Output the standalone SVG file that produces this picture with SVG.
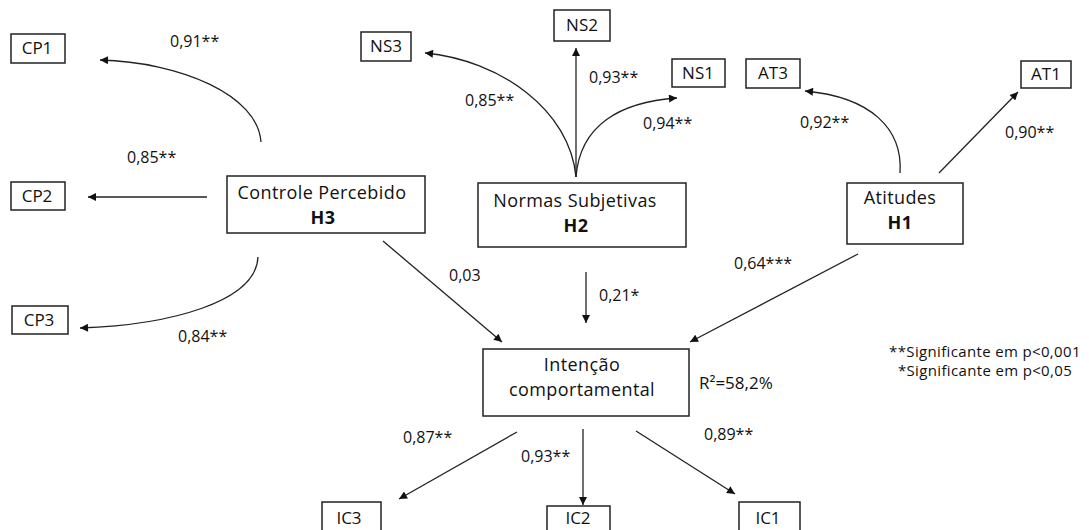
<svg xmlns="http://www.w3.org/2000/svg" width="1089" height="530" viewBox="0 0 1089 530">
<defs>
<marker id="arr" viewBox="0 0 10 10" refX="10" refY="5" markerWidth="9" markerHeight="8" markerUnits="userSpaceOnUse" orient="auto">
<path d="M0,0 L10,5 L0,10 z" fill="#111"/>
</marker>
<style>
.box{fill:#fff;stroke:#222;stroke-width:1.5}
.t{font-family:"Open Sans","Liberation Sans",sans-serif;fill:#111}
.big{font-size:18px;letter-spacing:0.4px;text-anchor:middle}
.bold{font-weight:bold}
.sm{font-size:16px}
.lbl{font-size:17px;text-anchor:middle}
.lg{font-size:15px;letter-spacing:0.35px;text-anchor:middle}
.ln{fill:none;stroke:#222;stroke-width:1.3;marker-end:url(#arr)}
</style>
</defs>
<rect width="1089" height="530" fill="#fff"/>
<g id="connectors">
<path class="ln" d="M261,142 C258,95 180,62 100,60"/>
<path class="ln" d="M207,197 L88,197"/>
<path class="ln" d="M258,257 C256,302 170,325 80,328"/>
<path class="ln" d="M576,177 C570,110 500,60 425,53"/>
<path class="ln" d="M576,177 L576,48"/>
<path class="ln" d="M576,177 C580,125 620,102 677,98"/>
<path class="ln" d="M900,173 C903,128 870,97 805,91"/>
<path class="ln" d="M939,173 L1018,92"/>
<path class="ln" d="M383,241 L502,342"/>
<path class="ln" d="M586,272 L586,323"/>
<path class="ln" d="M858,254 L690,342"/>
<path class="ln" d="M517,432 L399,499"/>
<path class="ln" d="M583,429 L583,505"/>
<path class="ln" d="M636,431 L735,494"/>
</g>
<g id="labels" class="t sm">
<text x="170" y="47">0,91**</text>
<text x="127" y="163">0,85**</text>
<text x="178" y="342">0,84**</text>
<text x="465" y="106">0,85**</text>
<text x="589" y="83">0,93**</text>
<text x="643" y="129">0,94**</text>
<text x="800" y="128">0,92**</text>
<text x="1005" y="138">0,90**</text>
<text x="449" y="281">0,03</text>
<text x="599" y="301">0,21*</text>
<text x="734" y="269">0,64***</text>
<text x="403" y="443">0,87**</text>
<text x="521" y="462">0,93**</text>
<text x="704" y="440">0,89**</text>
<text x="699" y="389" style="font-size:17px">R²=58,2%</text>
<text class="lg" x="985" y="357">**Significante em p&lt;0,001</text>
<text class="lg" x="985" y="376">*Significante em p&lt;0,05</text>
</g>
<g id="CP1"><rect class="box" x="11" y="34" width="54" height="29"/><text class="t lbl" x="37" y="54">CP1</text></g>
<g id="CP2"><rect class="box" x="11" y="182" width="54" height="28"/><text class="t lbl" x="37" y="202">CP2</text></g>
<g id="CP3"><rect class="box" x="12" y="306" width="56" height="28"/><text class="t lbl" x="39" y="326">CP3</text></g>
<g id="H3"><rect class="box" x="227" y="176" width="198" height="57"/><text class="t big" x="322" y="199">Controle Percebido</text><text class="t big bold" x="323" y="224">H3</text></g>
<g id="NS3"><rect class="box" x="361" y="32" width="50" height="29"/><text class="t lbl" x="386" y="52">NS3</text></g>
<g id="NS2"><rect class="box" x="554" y="10" width="56" height="31"/><text class="t lbl" x="582" y="31">NS2</text></g>
<g id="NS1"><rect class="box" x="672" y="59" width="53" height="28"/><text class="t lbl" x="698" y="79">NS1</text></g>
<g id="H2"><rect class="box" x="478" y="183" width="208" height="64"/><text class="t big" x="575" y="207">Normas Subjetivas</text><text class="t big bold" x="576" y="232">H2</text></g>
<g id="AT3"><rect class="box" x="746" y="59" width="54" height="29"/><text class="t lbl" x="773" y="79">AT3</text></g>
<g id="AT1"><rect class="box" x="1021" y="61" width="50" height="27"/><text class="t lbl" x="1046" y="80">AT1</text></g>
<g id="H1"><rect class="box" x="847" y="183" width="116" height="61"/><text class="t big" x="900" y="204">Atitudes</text><text class="t big bold" x="900" y="229">H1</text></g>
<g id="IC"><rect class="box" x="483" y="349" width="206" height="67"/><text class="t big" x="582" y="371">Intenção</text><text class="t big" x="582" y="396">comportamental</text></g>
<g id="IC3"><rect class="box" x="322" y="502" width="59" height="40"/><text class="t lbl" x="349" y="524">IC3</text></g>
<g id="IC2"><rect class="box" x="547" y="506" width="63" height="40"/><text class="t lbl" x="578" y="524">IC2</text></g>
<g id="IC1"><rect class="box" x="739" y="502" width="61" height="40"/><text class="t lbl" x="768" y="524">IC1</text></g>
</svg>
